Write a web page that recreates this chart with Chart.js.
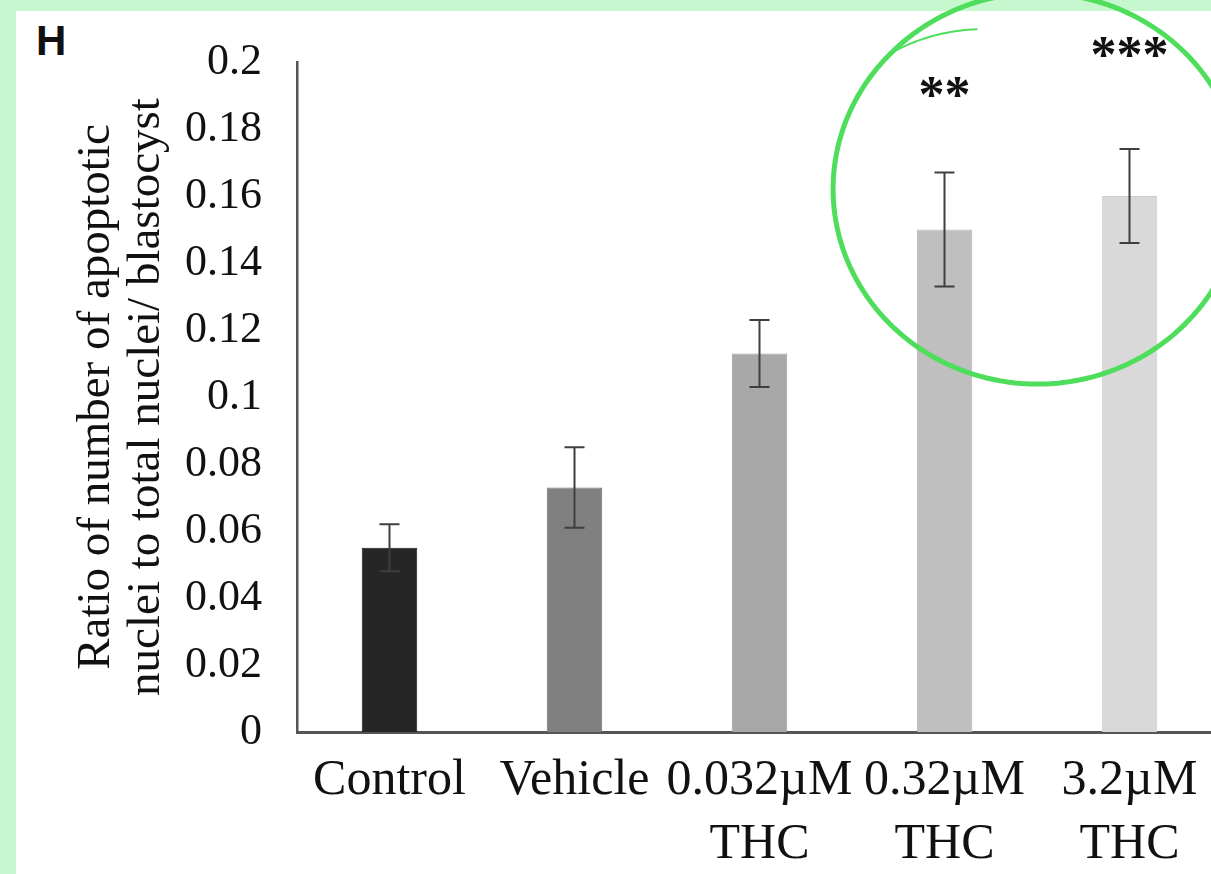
<!DOCTYPE html>
<html>
<head>
<meta charset="utf-8">
<script src="https://cdn.jsdelivr.net/npm/chart.js@4/dist/chart.umd.min.js"></script>
<style>
  html, body { margin: 0; padding: 0; }
  body { width: 1211px; height: 874px; overflow: hidden; background: #c6f7cf; position: relative; }
  #panel { position: absolute; left: 16px; top: 11px; right: 0; bottom: 0; background: #fff; }
  #wrap { position: absolute; left: 0; top: 0; width: 1226px; height: 874px; }
  #panelLetter { position: absolute; left: 36px; top: 17px; font: bold 42px "Liberation Sans", Arial, sans-serif; color: #111; }
</style>
</head>
<body>
<div id="panel"></div>
<div id="panelLetter">H</div>
<div id="wrap"><canvas id="apoptosisChart"></canvas></div>
<script>
const groups = ["Control", "Vehicle", ["0.032\u00b5M", "THC"], ["0.32\u00b5M", "THC"], ["3.2\u00b5M", "THC"]];
const apoptoticRatio = [0.055, 0.073, 0.113, 0.150, 0.160];
const ratioError = [0.007, 0.012, 0.010, 0.017, 0.014];
const significance = ["", "", "", "**", "***"];
const barColors = ["#262626", "#808080", "#a8a8a8", "#bfbfbf", "#d9d9d9"];
const barEdges = ["#1a1a1a", "#737373", "#9c9c9c", "#b3b3b3", "#cdcdcd"];

const serif = '"Liberation Serif", "Times New Roman", serif';

// error bars with small caps
const errorBars = {
    id: "errorBars",
    afterDatasetsDraw(chart) {
        const { ctx, scales: { y } } = chart;
        const meta = chart.getDatasetMeta(0);
        ctx.save();
        ctx.strokeStyle = "#3f3f3f";
        ctx.lineWidth = 2;
        meta.data.forEach((bar, i) => {
            const top = y.getPixelForValue(apoptoticRatio[i] + ratioError[i]);
            const bottom = y.getPixelForValue(apoptoticRatio[i] - ratioError[i]);
            const cap = 10;
            ctx.beginPath();
            ctx.moveTo(bar.x, top);
            ctx.lineTo(bar.x, bottom);
            ctx.moveTo(bar.x - cap, top);
            ctx.lineTo(bar.x + cap, top);
            ctx.moveTo(bar.x - cap, bottom);
            ctx.lineTo(bar.x + cap, bottom);
            ctx.stroke();
        });
        ctx.restore();
    }
};

// asterisks over the significant groups, lifted above the error bar
const sigMarks = {
    id: "sigMarks",
    afterDatasetsDraw(chart, args, opts) {
        const { ctx, scales: { y } } = chart;
        const meta = chart.getDatasetMeta(0);
        ctx.save();
        ctx.fillStyle = "#111";
        ctx.font = "bold 52px " + serif;
        ctx.textAlign = "center";
        ctx.textBaseline = "middle";
        meta.data.forEach((bar, i) => {
            if (!significance[i]) return;
            const top = y.getPixelForValue(apoptoticRatio[i] + ratioError[i]);
            ctx.fillText(significance[i], bar.x, top - opts.lift[i]);
        });
        ctx.restore();
    }
};

// hand-drawn green ring round the two highest doses
const ring = {
    id: "ring",
    afterDraw(chart) {
        const { ctx, scales: { x, y } } = chart;
        const cx = x.getPixelForValue(3.5);
        const cy = y.getPixelForValue(0.1624);
        const rx = 203, ry = 194;
        const t0 = -2.37;
        ctx.save();
        ctx.strokeStyle = "#4fdd5c";
        ctx.lineCap = "round";
        ctx.lineWidth = 5;
        ctx.beginPath();
        for (let i = 0; i <= 180; i++) {
            const t = t0 + (i / 180) * Math.PI * 2;
            const k = 1 + 0.012 * Math.sin(i / 180 * Math.PI);
            const px = cx + rx * k * Math.cos(t);
            const py = cy + ry * k * Math.sin(t);
            i ? ctx.lineTo(px, py) : ctx.moveTo(px, py);
        }
        ctx.stroke();
        // the pen trailing off inside the loop
        ctx.lineWidth = 2;
        ctx.beginPath();
        for (let i = 0; i <= 30; i++) {
            const t = t0 + (i / 30) * 0.45;
            const k = 1 - 0.13 * (i / 30);
            const px = cx + rx * k * Math.cos(t);
            const py = cy + ry * k * Math.sin(t);
            i ? ctx.lineTo(px, py) : ctx.moveTo(px, py);
        }
        ctx.stroke();
        ctx.restore();
    }
};

new Chart(document.getElementById("apoptosisChart"), {
    type: "bar",
    data: {
        labels: groups,
        datasets: [{
            data: apoptoticRatio,
            backgroundColor: barColors,
            borderColor: barEdges,
            borderWidth: 1,
            barPercentage: 0.3,
            categoryPercentage: 1
        }]
    },
    options: {
        responsive: true,
        maintainAspectRatio: false,
        animation: false,
        layout: { padding: { top: 62, right: 4, left: 0, bottom: 0 } },
        plugins: {
            legend: { display: false },
            tooltip: { enabled: false },
            sigMarks: { lift: [0, 0, 0, 74, 91] }
        },
        scales: {
            x: {
                grid: { display: false, drawTicks: false },
                border: { display: true, color: "#555", width: 3 },
                ticks: {
                    color: "#111",
                    padding: 17,
                    maxRotation: 0,
                    autoSkip: false,
                    font: { family: serif, size: 50, lineHeight: 1.28 }
                },
                afterFit(scale) { scale.height = 142; }
            },
            y: {
                min: 0,
                max: 0.2,
                grid: { display: false, drawTicks: false },
                border: { display: true, color: "#555", width: 2.5 },
                ticks: {
                    stepSize: 0.02,
                    color: "#111",
                    padding: 35,
                    font: { family: serif, size: 44 },
                    callback: v => String(Math.round(v * 100) / 100)
                },
                title: {
                    display: true,
                    text: ["Ratio of number of apoptotic", "nuclei to total nuclei/ blastocyst"],
                    color: "#111",
                    padding: { top: 71.5, bottom: 0 },
                    font: { family: serif, size: 47, lineHeight: 1.07 }
                },
                afterFit(scale) { scale.width = 297; }
            }
        }
    },
    plugins: [errorBars, sigMarks, ring]
});
</script>
</body>
</html>
